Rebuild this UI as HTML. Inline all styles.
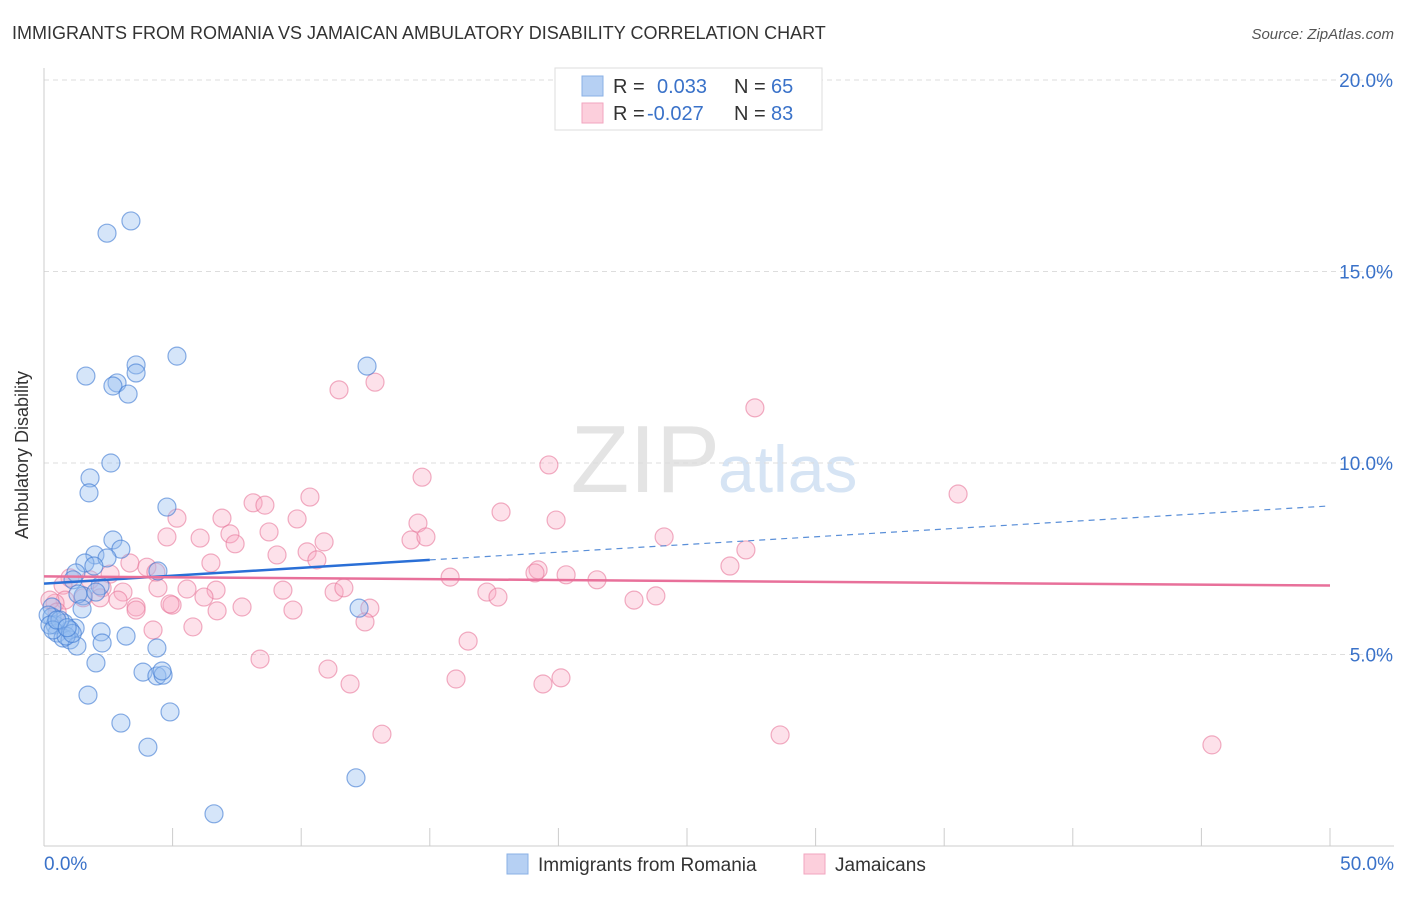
<!DOCTYPE html>
<html><head><meta charset="utf-8"><style>
body{margin:0;background:#fff;font-family:"Liberation Sans",sans-serif}
svg text{font-family:"Liberation Sans",sans-serif}
</style></head><body>
<svg id="chart" width="1406" height="892">
<text x="12" y="39" font-size="18" fill="#333">IMMIGRANTS FROM ROMANIA VS JAMAICAN AMBULATORY DISABILITY CORRELATION CHART</text>
<text x="1394" y="39" font-size="15" fill="#555" text-anchor="end" font-style="italic">Source: ZipAtlas.com</text>
<text x="720" y="492" font-size="96" fill="#e4e4e4" text-anchor="end" font-family="Liberation Serif">ZIP</text>
<text x="718" y="492" font-size="66" fill="#d6e4f4">atlas</text>
<g id="grid"></g><g id="axes"></g><g id="pts"></g><g id="trend"></g>
<text x="28" y="455" font-size="18" fill="#333" text-anchor="middle" transform="rotate(-90 28 455)">Ambulatory Disability</text>
<g>
<rect x="555" y="68" width="267" height="62" fill="#fff" stroke="#ddd"/>
<rect x="582" y="76" width="21" height="20" fill="#b6d0f3" stroke="#8ab0e6"/>
<rect x="582" y="103" width="21" height="20" fill="#fccfdc" stroke="#f2a6bf"/>
<text x="613" y="93" font-size="20" fill="#333">R = </text><text x="657" y="93" font-size="20" fill="#3a72c9">0.033</text>
<text x="734" y="93" font-size="20" fill="#333">N = </text><text x="771" y="93" font-size="20" fill="#3a72c9">65</text>
<text x="613" y="120" font-size="20" fill="#333">R = </text><text x="647" y="120" font-size="20" fill="#3a72c9">-0.027</text>
<text x="734" y="120" font-size="20" fill="#333">N = </text><text x="771" y="120" font-size="20" fill="#3a72c9">83</text>
</g>
<g>
<rect x="507" y="854" width="21" height="20" fill="#b6d0f3" stroke="#8ab0e6"/>
<text x="538" y="871" font-size="19" fill="#333">Immigrants from Romania</text>
<rect x="804" y="854" width="21" height="20" fill="#fccfdc" stroke="#f2a6bf"/>
<text x="835" y="871" font-size="19" fill="#333">Jamaicans</text>
</g>
</svg>
<script>
const blueX=[2.45,3.38,5.17,3.58,3.58,1.63,12.56,2.84,2.68,3.27,2.60,1.79,1.75,4.78,2.68,2.99,1.98,2.45,1.59,1.94,1.24,4.43,1.13,2.18,1.52,1.32,2.02,0.31,1.48,12.25,0.31,0.43,0.78,1.21,0.51,2.22,3.19,1.01,0.74,1.01,2.26,1.28,4.39,2.02,3.85,4.39,4.63,4.59,1.71,4.90,2.99,4.04,12.13,6.61,0.16,0.23,0.62,0.86,0.35,0.5,1.1,0.9];
const blueY=[16.0,16.32,12.79,12.56,12.35,12.27,12.53,12.09,12.01,11.80,10.0,9.61,9.22,8.85,7.99,7.75,7.60,7.52,7.39,7.31,7.13,7.18,6.95,6.79,6.53,6.58,6.63,6.24,6.19,6.21,5.98,5.77,5.82,5.69,5.56,5.59,5.48,5.64,5.43,5.38,5.30,5.22,5.17,4.78,4.54,4.44,4.46,4.57,3.94,3.50,3.21,2.58,1.78,0.84,6.03,5.77,5.90,5.48,5.64,5.9,5.55,5.7];
const pinkX=[11.47,12.87,27.64,19.63,14.70,35.54,8.13,8.59,10.34,5.17,6.92,9.84,17.77,19.91,14.54,4.78,6.07,7.23,8.75,7.43,10.89,14.27,14.85,24.11,27.29,9.06,10.23,10.61,6.49,3.34,4.00,2.57,4.35,26.67,19.21,19.09,20.30,15.79,21.50,1.01,1.79,0.74,2.26,3.07,4.43,5.56,6.69,9.29,11.28,11.66,17.22,17.65,23.79,22.94,2.18,0.82,0.43,1.52,2.88,4.98,6.22,3.58,7.70,9.68,12.67,3.58,6.73,4.90,5.79,12.48,4.24,16.49,8.40,11.04,11.90,16.02,20.10,19.40,13.14,28.62,45.41,0.23,0.51];
const pinkY=[11.91,12.11,11.44,9.95,9.63,9.19,8.96,8.90,9.11,8.56,8.56,8.54,8.72,8.51,8.43,8.07,8.04,8.15,8.20,7.89,7.94,7.99,8.07,8.07,7.73,7.60,7.68,7.47,7.39,7.39,7.28,7.10,7.15,7.31,7.21,7.13,7.08,7.02,6.95,7.0,6.95,6.81,6.74,6.63,6.74,6.71,6.68,6.68,6.63,6.74,6.63,6.50,6.53,6.42,6.48,6.42,6.34,6.48,6.42,6.29,6.50,6.24,6.24,6.16,6.21,6.16,6.14,6.32,5.72,5.85,5.64,5.35,4.88,4.62,4.23,4.36,4.39,4.23,2.92,2.90,2.64,6.42,6.11];
const yTicks=[5,10,15,20];
const yTickLabels=["5.0%","10.0%","15.0%","20.0%"];
const xTicks=[0,5,10,15,20,25,30,35,40,45,50];
const blueTrend=[6.85,7.47,8.88]; // at x=0,15,50
const pinkTrend=[7.04,6.80]; // at x=0,50
const NS="http://www.w3.org/2000/svg";
const sx=v=>44+v*25.72, sy=v=>846-v*38.3;
function mk(tag,attrs,parent){const e=document.createElementNS(NS,tag);for(const k in attrs)e.setAttribute(k,attrs[k]);document.getElementById(parent).appendChild(e);return e;}
yTicks.forEach((t,i)=>{
 const l=mk('line',{x1:44,x2:1394,y1:sy(t),y2:sy(t),stroke:'#ddd','stroke-dasharray':'5,4'},'grid');
 
 
 const tx=mk('text',{x:1393,y:sy(t)+7,'font-size':19,fill:'#3a72c9','text-anchor':'end'},'axes');
 tx.textContent=yTickLabels[i];
 
 
});
let a=mk('line',{x1:44,x2:44,y1:68,y2:846,stroke:'#ccc'},'axes');


a=mk('line',{x1:44,x2:1394,y1:846,y2:846,stroke:'#ccc'},'axes');


xTicks.forEach(t=>{
 const l=mk('line',{x1:sx(t),x2:sx(t),y1:828,y2:846,stroke:'#ccc'},'axes');
 
 
});
let t0=mk('text',{x:44,y:870,'font-size':19,fill:'#3a72c9'},'axes');t0.textContent="0.0%";


t0=mk('text',{x:1394,y:870,'font-size':19,fill:'#3a72c9','text-anchor':'end'},'axes');t0.textContent="50.0%";


pinkX.forEach((x,i)=>{
 const c=mk('circle',{cx:sx(x),cy:sy(pinkY[i]),r:9,fill:'rgba(248,170,195,0.35)',stroke:'rgba(232,120,155,0.6)','stroke-width':1.2},'pts');
 
 
});
blueX.forEach((x,i)=>{
 const c=mk('circle',{cx:sx(x),cy:sy(blueY[i]),r:9,fill:'rgba(150,190,240,0.4)',stroke:'rgba(60,120,210,0.6)','stroke-width':1.2},'pts');
 
 
});
let tl=mk('line',{x1:sx(0),y1:sy(blueTrend[0]),x2:sx(15),y2:sy(blueTrend[1]),stroke:'#2a6fd6','stroke-width':2.5},'trend');


tl=mk('line',{x1:sx(15),y1:sy(blueTrend[1]),x2:sx(50),y2:sy(blueTrend[2]),stroke:'#5a8fd8','stroke-width':1.2,'stroke-dasharray':'6,5'},'trend');


tl=mk('line',{x1:sx(0),y1:sy(pinkTrend[0]),x2:sx(50),y2:sy(pinkTrend[1]),stroke:'#e8709a','stroke-width':2.5},'trend');


</script>
</body></html>
